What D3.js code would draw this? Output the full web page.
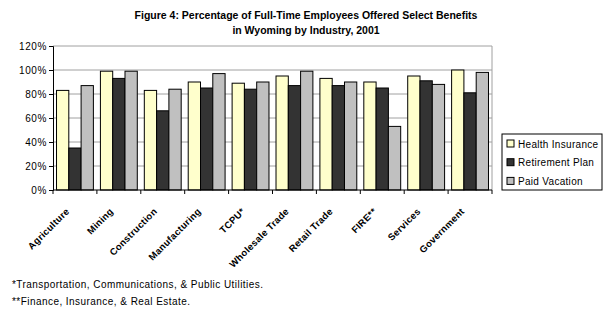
<!DOCTYPE html>
<html>
<head>
<meta charset="utf-8">
<script src="https://cdn.jsdelivr.net/npm/d3@7"></script>
<style>
  body { margin: 0; background: #fff; }
  text { font-family: "Liberation Sans", Arial, sans-serif; }
</style>
</head>
<body>
<svg width="612" height="324"></svg>
<script>
var industries = ["Agriculture", "Mining", "Construction", "Manufacturing", "TCPU*",
                  "Wholesale Trade", "Retail Trade", "FIRE**", "Services", "Government"];
var seriesNames = ["Health Insurance", "Retirement Plan", "Paid Vacation"];
var health     = [83, 99, 83, 90, 89, 95, 93, 90, 95, 100];
var retirement = [35, 93, 66, 85, 84, 87, 87, 85, 91, 81];
var vacation   = [87, 99, 84, 97, 90, 99, 90, 53, 88, 98];
var yTicks = [0, 20, 40, 60, 80, 100, 120];
var colors = ["#FFFFCC", "#333333", "#C0C0C0"];
var footnotes = ["*Transportation, Communications, & Public Utilities.",
                 "**Finance, Insurance, & Real Estate."];

var seriesValues = [health, retirement, vacation];

var svg = d3.select("svg"),
    margin = {top: 46, left: 53},
    width = 439,
    height = 144,
    g = svg.append("g").attr("transform", "translate(" + margin.left + "," + margin.top + ")");

var x = d3.scaleBand()
    .domain(industries)
    .range([0, width])
    .paddingInner(0.16)
    .paddingOuter(0.08);

var x1 = d3.scaleBand()
    .domain(seriesNames)
    .range([0, x.bandwidth()]);

var y = d3.scaleLinear()
    .domain([0, 120])
    .range([height, 0]);

// title
svg.append("text")
    .attr("x", 306).attr("y", 19)
    .attr("text-anchor", "middle")
    .style("font-size", "10.5px").style("font-weight", "bold")
    .text("Figure 4:  Percentage of Full-Time Employees Offered Select Benefits");
svg.append("text")
    .attr("x", 306).attr("y", 34)
    .attr("text-anchor", "middle")
    .style("font-size", "10.5px").style("font-weight", "bold")
    .text("in Wyoming by Industry, 2001");

// gridlines
g.selectAll(".grid")
    .data(yTicks.filter(function(d) { return d > 0; }))
  .enter().append("line")
    .attr("x1", 0).attr("x2", width)
    .attr("y1", function(d) { return y(d); })
    .attr("y2", function(d) { return y(d); })
    .attr("stroke", "#a0a0a0")
    .attr("stroke-width", 1);

g.append("line")
    .attr("x1", width).attr("x2", width)
    .attr("y1", 0).attr("y2", height)
    .attr("stroke", "#a0a0a0");

// bars
var groups = g.selectAll(".group")
    .data(industries)
  .enter().append("g")
    .attr("transform", function(d) { return "translate(" + x(d) + ",0)"; });

groups.selectAll("rect")
    .data(function(d, i) {
        return seriesNames.map(function(s, j) { return {name: s, value: seriesValues[j][i], k: j}; });
    })
  .enter().append("rect")
    .attr("x", function(d) { return x1(d.name); })
    .attr("width", x1.bandwidth())
    .attr("y", function(d) { return y(d.value); })
    .attr("height", function(d) { return height - y(d.value); })
    .attr("fill", function(d) { return colors[d.k]; })
    .attr("stroke", "#000")
    .attr("stroke-width", 1);

// y axis
var yAxis = g.append("g")
    .call(d3.axisLeft(y).tickValues(yTicks).tickSize(4).tickFormat(function(d) { return d + "%"; }));
yAxis.select(".domain").attr("stroke", "#000");
yAxis.selectAll("text")
    .style("font-size", "10px").style("letter-spacing", "0.6px")
    .attr("x", -6).attr("fill", "#000");

// x axis with ticks between categories
var xb = g.append("g").attr("transform", "translate(0," + height + ")");
xb.append("line").attr("x1", 0).attr("x2", width).attr("stroke", "#000");
xb.selectAll(".xt")
    .data(d3.range(industries.length + 1))
  .enter().append("line")
    .attr("x1", function(i) { return i * width / industries.length; })
    .attr("x2", function(i) { return i * width / industries.length; })
    .attr("y1", 0).attr("y2", 4)
    .attr("stroke", "#000");

xb.selectAll(".xl")
    .data(industries)
  .enter().append("text")
    .attr("transform", function(d) {
        return "translate(" + (x(d) + x.bandwidth() / 2 - 5) + ",22) rotate(-45)";
    })
    .attr("text-anchor", "end")
    .style("font-size", "9.5px")
    .style("font-weight", "bold")
    .style("letter-spacing", "0.3px")
    .text(function(d) { return d; });

// legend
var lg = svg.append("g").attr("transform", "translate(502,134)");
lg.append("rect")
    .attr("width", 100).attr("height", 56)
    .attr("fill", "#fff").attr("stroke", "#000");
var items = lg.selectAll(".li")
    .data(seriesNames)
  .enter().append("g")
    .attr("transform", function(d, i) { return "translate(5," + (10 + i * 18.7) + ")"; });
items.append("rect")
    .attr("x", 0).attr("y", -4)
    .attr("width", 7).attr("height", 7)
    .attr("fill", function(d, i) { return colors[i]; })
    .attr("stroke", "#000");
items.append("text")
    .attr("x", 11).attr("y", 3.5)
    .style("font-size", "10px").style("letter-spacing", "0.3px")
    .text(function(d) { return d; });

// footnotes
svg.selectAll(".fn")
    .data(footnotes)
  .enter().append("text")
    .attr("x", 12)
    .attr("y", function(d, i) { return 288 + i * 17; })
    .style("font-size", "10px").style("letter-spacing", "0.45px")
    .text(function(d) { return d; });
</script>
</body>
</html>
